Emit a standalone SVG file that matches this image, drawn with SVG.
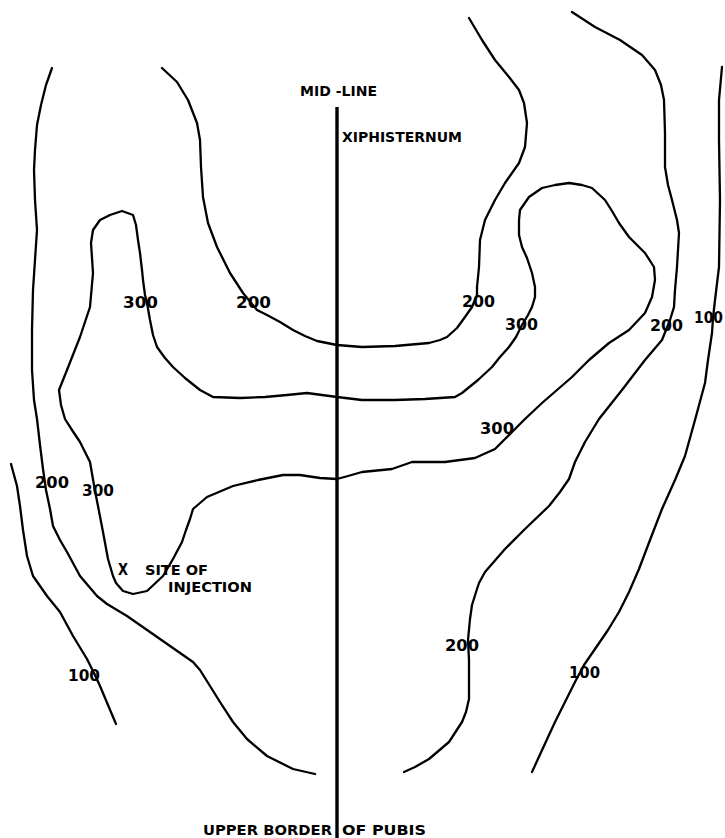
<svg xmlns="http://www.w3.org/2000/svg" width="725" height="838" viewBox="0 0 725 838">
<style>
.c{fill:none;stroke:#000;stroke-width:2.3;stroke-linejoin:round;stroke-linecap:round}
.m{fill:none;stroke:#000;stroke-width:3.4}
.t{font-family:"DejaVu Sans","Liberation Sans",sans-serif;font-weight:bold;font-size:13.5px;fill:#000}
.n{font-family:"DejaVu Sans","Liberation Sans",sans-serif;font-weight:bold;font-size:15px;fill:#000}
</style>
<rect width="725" height="838" fill="#fff"/>
<g id="contours">
<polyline id="left-200-outer" class="c" points="52,68 46,85 41,105 37,125 35,150 34,170 35,200 37,230 35,260 33,290 32,330 32,370 34,400 37,419 40,445 43,469 46,490 50,509 53,526 60,540 67,552 80,576 97,596 107,604 127,616 160,639 193,662 200,670 210,686 220,702 233,722 247,739 267,756 293,769 315,774"/>
<polyline id="left-100" class="c" points="11,464 17,486 20,506 23,530 27,556 33,576 47,596 60,612 73,636 87,659 94,673 100,686 108,705 116,724"/>
<polyline id="upper-200" class="c" points="162,68 177,82 188,100 197,123 200,140 201,167 203,197 208,223 217,247 230,273 243,293 252,304 257,310 267,315 280,322 293,330 305,336 317,341 337,345 362,347 395,346 429,343 440,340 447,337 457,328 465,317 472,307 477,295 477,287 479,267 480,240 485,220 495,200 505,183 519,163 525,147 527,123 524,103 519,90 509,77 495,60 482,40 469,18"/>
<polygon id="loop-300" class="c" points="122,211 133,215 136,225 138,240 140,253 142,270 143,280 145,295 147,303 150,320 153,335 157,347 165,358 173,367 185,378 200,390 213,397 240,398 265,397 287,395 307,393 337,397 362,400 395,400 425,399 455,397 462,393 478,380 492,367 500,357 509,347 516,337 522,325 528,315 532,307 535,297 535,287 532,273 527,258 522,247 519,235 519,220 520,210 529,197 542,188 555,185 569,183 582,185 592,188 605,200 612,211 619,223 629,237 645,253 654,267 655,280 652,297 645,313 629,330 609,343 589,360 572,377 557,390 542,403 525,419 515,429 505,439 495,449 475,458 445,462 412,462 392,469 362,472 348,476 337,479 320,478 300,475 283,475 258,480 233,486 207,497 193,509 190,519 186,530 182,542 173,559 163,576 147,591 133,594 123,591 116,583 113,576 108,559 103,532 98,506 95,491 90,462 80,442 72,430 65,419 61,405 59,390 63,380 67,370 80,337 90,307 93,273 91,243 93,230 100,220 110,215"/>
<polyline id="right-200-outer" class="c" points="572,12 595,27 620,40 642,55 655,70 661,85 664,100 665,133 665,167 668,185 672,200 677,220 679,233 678,250 677,267 675,290 674,307 670,320 662,340 645,360 622,390 599,419 585,442 575,462 569,479 560,492 549,506 525,529 505,549 485,572 479,583 477,589 472,605 470,619 468,640 469,660 469,672 469,699 466,712 462,722 449,742 429,759 415,767 404,772"/>
<polyline id="right-100" class="c" points="722,67 719,100 719,140 720,200 719,267 715,300 713,318 712,333 708,360 705,383 695,420 685,456 675,480 662,509 650,540 639,569 629,592 619,612 608,630 595,649 584,665 575,682 565,702 555,722 543,748 532,772"/>
</g>
<g id="midline">
<line class="m" x1="337" y1="107" x2="337" y2="838"/>
</g>
<g id="labels">
<text class="t" x="300" y="96" textLength="77" lengthAdjust="spacingAndGlyphs">MID -LINE</text>
<text class="t" x="342" y="142" textLength="120" lengthAdjust="spacingAndGlyphs">XIPHISTERNUM</text>
<text class="t" x="118" y="575" textLength="10" lengthAdjust="spacingAndGlyphs" style="font-size:16px">X</text>
<text class="t" x="145" y="575" textLength="63" lengthAdjust="spacingAndGlyphs">SITE OF</text>
<text class="t" x="168" y="592" textLength="84" lengthAdjust="spacingAndGlyphs">INJECTION</text>
<text class="t" x="203" y="835" textLength="129" lengthAdjust="spacingAndGlyphs">UPPER BORDER</text>
<text class="t" x="342" y="835" textLength="84" lengthAdjust="spacingAndGlyphs">OF PUBIS</text>
</g>
<g id="values">
<text class="n" x="123" y="308" textLength="35" lengthAdjust="spacingAndGlyphs">300</text>
<text class="n" x="236" y="308" textLength="35" lengthAdjust="spacingAndGlyphs">200</text>
<text class="n" x="462" y="307" textLength="33" lengthAdjust="spacingAndGlyphs">200</text>
<text class="n" x="505" y="330" textLength="33" lengthAdjust="spacingAndGlyphs">300</text>
<text class="n" x="650" y="331" textLength="33" lengthAdjust="spacingAndGlyphs">200</text>
<text class="n" x="694" y="323" textLength="29" lengthAdjust="spacingAndGlyphs">100</text>
<text class="n" x="480" y="434" textLength="34" lengthAdjust="spacingAndGlyphs">300</text>
<text class="n" x="35" y="488" textLength="34" lengthAdjust="spacingAndGlyphs">200</text>
<text class="n" x="82" y="496" textLength="32" lengthAdjust="spacingAndGlyphs">300</text>
<text class="n" x="68" y="681" textLength="32" lengthAdjust="spacingAndGlyphs">100</text>
<text class="n" x="445" y="651" textLength="34" lengthAdjust="spacingAndGlyphs">200</text>
<text class="n" x="569" y="678" textLength="31" lengthAdjust="spacingAndGlyphs">100</text>
</g>
</svg>
